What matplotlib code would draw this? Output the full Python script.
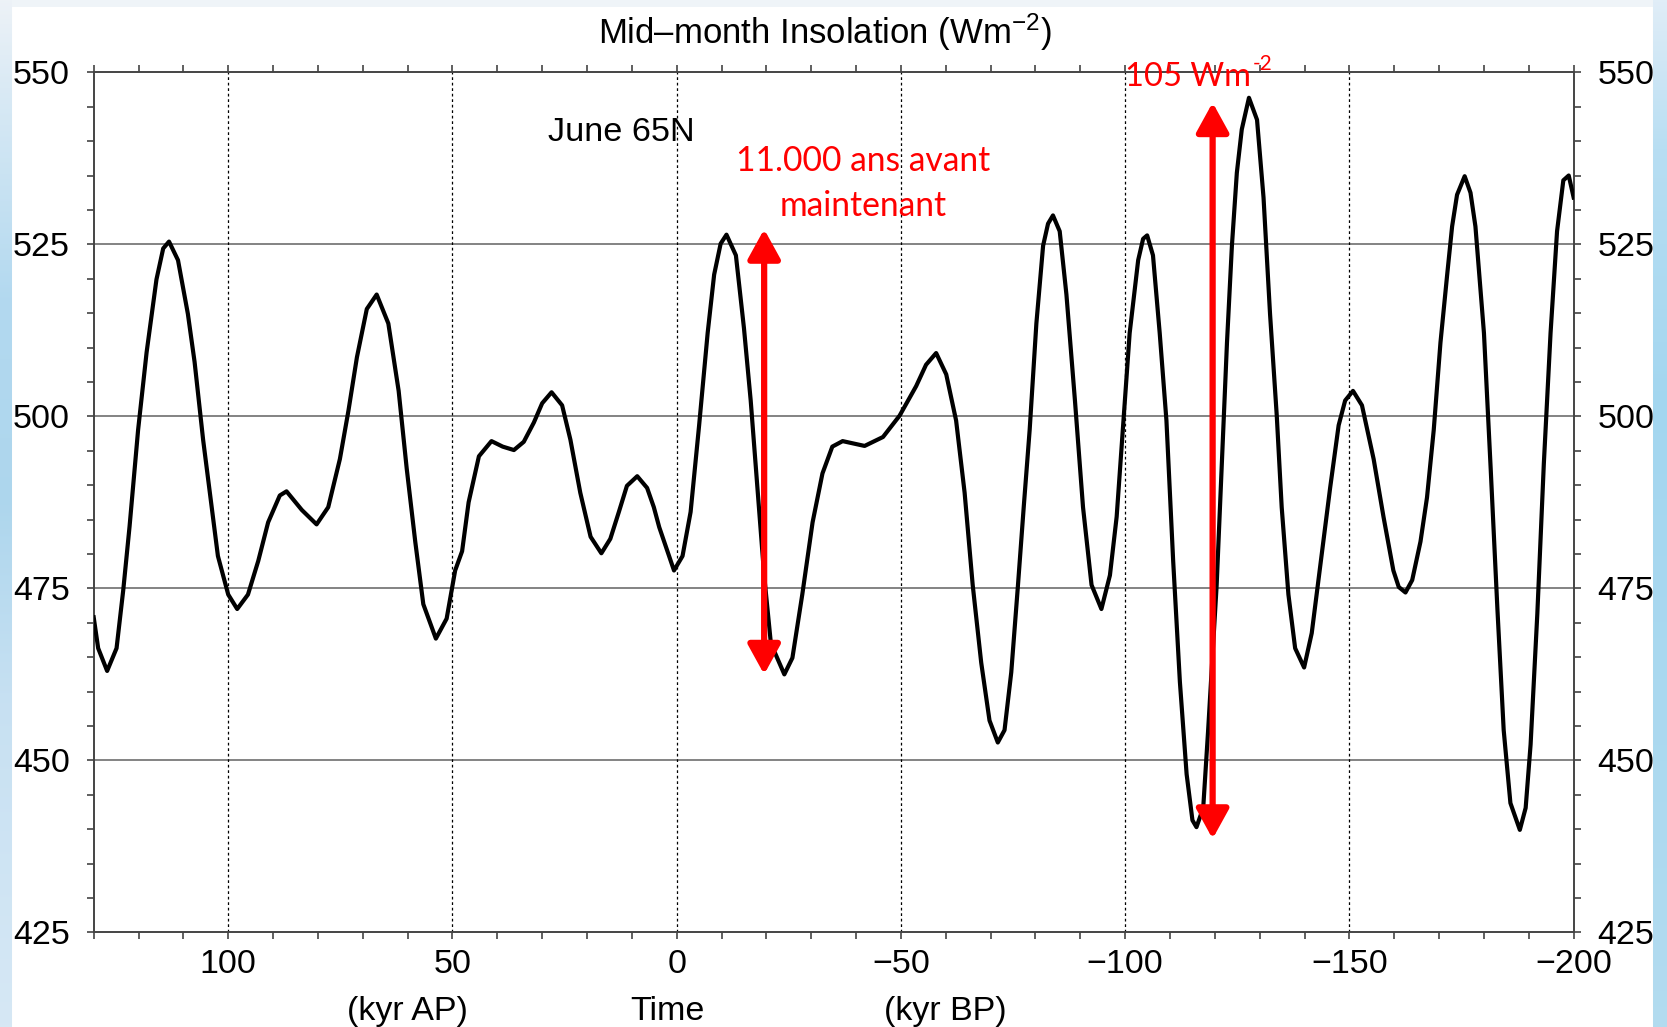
import numpy as np
import matplotlib
matplotlib.use("Agg")
import matplotlib.pyplot as plt
from matplotlib.ticker import MultipleLocator
from matplotlib.patches import ArrowStyle

# June 65N mid-month insolation (W m-2), time in kyr (+ = after present, - = before present)
kyr = [130.0, 129.0, 127.0, 124.9, 123.4, 122.0, 120.1, 118.2, 116.0, 114.5,
       113.2, 111.2, 109.0, 107.5, 105.6, 104.1, 102.3, 100.0, 98.0, 95.6,
       93.3, 91.1, 88.5, 87.0, 83.6, 80.3, 77.7, 75.1, 73.2, 71.3,
       69.1, 66.9, 64.3, 62.0, 60.2, 58.3, 56.5, 53.7, 51.3, 49.4,
       47.85, 46.4, 44.1, 41.3, 38.8, 36.3, 34.1, 31.85, 30.0, 27.9,
       25.55, 23.7, 21.5, 19.2, 16.8, 14.8, 12.9, 11.1, 8.8, 6.6,
       5.1, 3.9, 0.6, -1.3, -3.1, -5.0, -6.9, -8.35, -9.8, -11.1,
       -13.2, -15.0, -16.5, -18.0, -19.5, -21.0, -24.0, -25.8, -28.0, -30.3,
       -32.5, -34.7, -37.0, -41.9, -46.0, -49.7, -53.4, -55.6, -57.85, -60.1,
       -62.3, -64.2, -66.0, -67.9, -69.75, -71.6, -73.1, -74.6, -76.1, -77.4,
       -78.7, -80.2, -81.7, -82.8, -83.9, -85.4, -86.9, -88.8, -90.6, -92.5,
       -94.7, -96.6, -98.1, -99.55, -101.0, -102.9, -104.0, -104.9, -106.2, -107.7,
       -109.2, -110.7, -112.2, -113.7, -115.0, -115.9, -117.4, -118.5, -120.4, -121.55,
       -122.7, -123.8, -124.9, -126.0, -127.6, -129.4, -130.85, -132.3, -133.8, -134.9,
       -136.4, -137.9, -139.9, -141.6, -143.5, -145.7, -147.6, -149.05, -150.8, -152.8,
       -155.4, -157.6, -159.8, -161.0, -162.5, -164.0, -165.85, -167.3, -168.8, -170.3,
       -171.8, -172.9, -174.0, -175.7, -177.0, -178.1, -180.0, -181.5, -183.0, -184.4,
       -185.9, -188.0, -189.3, -190.4, -191.9, -193.35, -194.85, -196.3, -197.7, -198.9,
       -200.0]
insol = [470.8, 466.3, 463.0, 466.3, 474.8, 484.0, 498.0, 509.3, 519.9, 524.4,
         525.4, 522.7, 514.9, 507.9, 496.6, 488.9, 479.7, 474.1, 472.0, 474.1,
         479.0, 484.6, 488.5, 489.1, 486.4, 484.3, 486.8, 493.8, 500.8, 508.6,
         515.6, 517.7, 513.5, 503.7, 492.4, 481.8, 472.7, 467.7, 470.6, 477.6,
         480.4, 487.5, 494.2, 496.4, 495.6, 495.1, 496.3, 499.1, 501.9, 503.5,
         501.6, 496.6, 488.9, 482.5, 480.1, 482.2, 486.1, 489.9, 491.3, 489.6,
         486.8, 483.9, 477.6, 479.7, 486.1, 498.7, 512.1, 520.6, 525.1, 526.4,
         523.4, 512.8, 502.3, 489.6, 476.9, 467.0, 462.5, 464.9, 474.1, 484.6,
         491.7, 495.6, 496.4, 495.7, 497.0, 500.1, 504.4, 507.5, 509.2, 506.1,
         499.4, 488.9, 475.5, 464.2, 455.8, 452.6, 454.4, 462.8, 475.5, 487.0,
         498.0, 513.5, 524.8, 528.0, 529.2, 526.9, 517.7, 502.3, 486.8, 475.5,
         472.0, 476.9, 485.4, 498.7, 512.1, 522.7, 525.8, 526.3, 523.4, 512.1,
         499.4, 479.0, 461.4, 448.0, 441.3, 440.3, 443.1, 454.4, 475.5, 493.1,
         510.7, 524.8, 535.4, 541.7, 546.3, 543.1, 531.8, 514.9, 500.1, 486.8,
         474.1, 466.3, 463.5, 468.5, 478.3, 489.6, 498.7, 502.3, 503.7, 501.6,
         493.8, 485.4, 477.6, 475.2, 474.4, 476.2, 481.8, 488.2, 498.0, 510.7,
         520.6, 527.6, 532.2, 534.9, 532.5, 527.6, 512.1, 492.4, 472.0, 454.4,
         443.8, 439.9, 443.1, 452.3, 471.3, 493.1, 512.1, 526.9, 534.3, 535.0,
         531.8]

# red double arrows: (x, low, high)
arrow_x = [-19.5, -119.5]
arrow_lo = [462.5, 438.6]
arrow_hi = [527.2, 545.6]

FONT = "Liberation Sans"
RED_FONT = "Lato"
plt.rcParams.update({"font.family": FONT, "mathtext.fontset": "custom",
                     "mathtext.rm": FONT, "mathtext.it": FONT, "mathtext.bf": FONT})

W, H = 1667, 1027
fig = plt.figure(figsize=(W / 100, H / 100), dpi=100)

# light blue slide-style background
bg = np.ones((H, W, 3))
rows = np.arange(H)
bg[:7, :, :] = (0.94, 0.96, 0.975)
left_stops = [0, 80, 300, 500, 700, H]
left_cols = np.array([(0.93, 0.95, 0.97), (0.86, 0.92, 0.96), (0.70, 0.85, 0.94),
                      (0.68, 0.84, 0.93), (0.78, 0.88, 0.95), (0.84, 0.91, 0.96)])
right_stops = [0, 150, 400, H]
right_cols = np.array([(0.88, 0.93, 0.97), (0.72, 0.87, 0.95),
                       (0.64, 0.84, 0.94), (0.70, 0.86, 0.94)])
for c in range(3):
    bg[:, :12, c] = np.interp(rows, left_stops, left_cols[:, c])[:, None]
    bg[:, 1652:, c] = np.interp(rows, right_stops, right_cols[:, c])[:, None]
bax = fig.add_axes([0, 0, 1, 1], zorder=-10)
bax.imshow(bg, aspect="auto", extent=[0, 1, 0, 1])
bax.axis("off")

ax = fig.add_axes([0.0562, 0.0921, 0.8878, 0.8375])
ax.set_facecolor("white")
ax.set_xlim(130, -200)
ax.set_ylim(425, 550)

for g in [450, 475, 500, 525]:
    ax.axhline(g, color="#7a7a7a", lw=1.3, zorder=1)
for g in [100, 50, 0, -50, -100, -150]:
    ax.axvline(g, color="black", lw=0.9, ls=(0, (2.2, 2.2)), zorder=1)

ax.plot(kyr, insol, color="black", lw=3.0, solid_joinstyle="round", zorder=3)

for x, lo, hi in zip(arrow_x, arrow_lo, arrow_hi):
    ax.annotate("", xy=(x, hi), xytext=(x, lo),
                arrowprops=dict(arrowstyle=ArrowStyle("<|-|>", head_length=1.0, head_width=0.55),
                                mutation_scale=18, color="red", lw=4.5,
                                shrinkA=0, shrinkB=0), zorder=5)

ax.xaxis.set_major_locator(MultipleLocator(50))
ax.xaxis.set_minor_locator(MultipleLocator(10))
ax.yaxis.set_major_locator(MultipleLocator(25))
ax.yaxis.set_minor_locator(MultipleLocator(5))
ax.tick_params(which="both", direction="out", length=5, width=1.2, color="#444444",
               top=True, right=True, labelright=True, labelsize=24.5)
ax.tick_params(axis="x", pad=7)
ax.tick_params(axis="y", pad=12)
for s in ax.spines.values():
    s.set_color("#444444")
    s.set_linewidth(1.4)

ax.text(12.4, 541.2, "June 65N", fontsize=24.7, ha="center", va="center")
ax.text(-41.6, 537.1, "11.000 ans avant", fontsize=24.2, color="red",
        family=RED_FONT, ha="center", va="center")
ax.text(-41.6, 530.6, "maintenant", fontsize=24.2, color="red",
        family=RED_FONT, ha="center", va="center")
t105 = ax.text(-100, 549.3, "105 Wm", fontsize=23.5, color="red", family=RED_FONT,
               ha="left", va="center", zorder=6)
ax.annotate("-2", xy=(1.0, 0.62), xycoords=t105, xytext=(1, 0),
            textcoords="offset points", fontsize=15, color="red",
            family=RED_FONT, ha="left", va="bottom", zorder=6)

fig.text(0.495, 0.969, "Mid\u2013month Insolation (Wm$^{-2}$)", fontsize=25,
         ha="center", va="center")
for lbl, xv in [("(kyr AP)", 60), ("Time", 2), ("(kyr BP)", -60)]:
    ax.text(xv, -0.092, lbl, fontsize=24.5, ha="center", va="center",
            transform=ax.get_xaxis_transform())

fig.savefig("out.png", dpi=100)
